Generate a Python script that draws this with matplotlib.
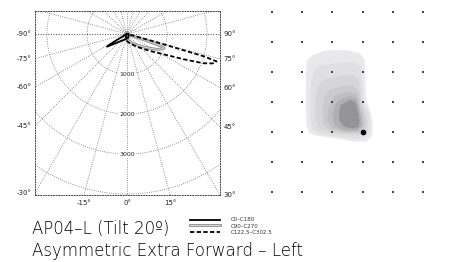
import numpy as np
import matplotlib.pyplot as plt
from matplotlib.patches import Circle, Polygon
from matplotlib.lines import Line2D

plt.rcParams['font.family'] = ['DejaVu Sans']

# photometric curves: angle from nadir (deg), intensity (cd)
c0_ang = [-90, -75, -65, -61, -59.5, -58.5, -57.5, -55, -50, -45, -40, -30, -20, -10,
          0, 10, 20, 30, 45, 60, 75, 90]
c0_cd = [10, 12, 20, 60, 300, 560, 590, 475, 345, 272, 227, 173, 143, 125,
         115, 105, 90, 75, 60, 50, 40, 30]

c90_ang = [-90, -60, -30, -10, 0, 10, 21, 30, 40, 50, 53.5, 60, 62.7, 66, 69.3, 70.5,
           71.5, 73, 80, 90]
c90_cd = [10, 15, 30, 70, 120, 160, 206, 260, 350, 480, 560, 730, 835, 930, 995, 900,
          300, 60, 20, 10]

c122_ang = [-90, -60, -30, -10, 0, 10, 18, 30, 40, 50, 55, 62, 66, 69, 71, 73, 73.8,
            74.5, 76, 80, 90]
c122_cd = [10, 15, 50, 130, 180, 215, 245, 320, 430, 610, 760, 1120, 1550, 2040, 2260,
           2340, 2000, 800, 100, 30, 10]

ring_values = [1000, 2000, 3000, 4000]
ring_labels = ['1000', '2000', '3000']
left_angles = [-90, -75, -60, -45, -30]
right_angles = [90, 75, 60, 45, 30]
bottom_angles = [-15, 0, 15]

# isolux plot: grid of measuring points and filled levels (outer -> inner)
grid_x = [-3, -2, -1, 0, 1, 2]
grid_y = [-2, -1, 0, 1, 2, 3, 4]
lum_x, lum_y = 0, 0
iso_levels = [
    [(-0.93, 2.73), (-0.50, 2.72), (-0.11, 2.62), (0.06, 2.40), (0.08, 1.73), (0.11, 1.07),
     (0.27, 0.62), (0.33, 0.23), (0.30, -0.13), (0.11, -0.32), (-0.33, -0.30), (-0.83, -0.21),
     (-1.49, -0.12), (-1.76, -0.04), (-1.86, 0.23), (-1.87, 1.07), (-1.87, 2.07), (-1.82, 2.40),
     (-1.65, 2.55), (-1.32, 2.68)],
    [(-1.42, 2.20), (-0.83, 2.30), (-0.30, 2.33), (-0.07, 2.20), (-0.02, 1.57), (0.03, 1.00),
     (0.20, 0.60), (0.25, 0.20), (0.17, -0.10), (-0.10, -0.22), (-0.66, -0.17), (-1.32, -0.07),
     (-1.65, 0.07), (-1.72, 0.40), (-1.72, 1.23), (-1.68, 1.80), (-1.58, 2.07)],
    [(-1.29, 1.73), (-0.83, 1.87), (-0.33, 1.90), (-0.13, 1.73), (-0.07, 1.23), (0.0, 0.87),
     (0.13, 0.53), (0.17, 0.17), (0.07, -0.07), (-0.33, -0.10), (-0.99, -0.03), (-1.42, 0.10),
     (-1.55, 0.40), (-1.55, 1.07), (-1.49, 1.50)],
    [(-1.09, 1.40), (-0.66, 1.53), (-0.30, 1.53), (-0.13, 1.33), (-0.07, 0.93), (0.07, 0.50),
     (0.08, 0.20), (-0.03, 0.0), (-0.50, -0.03), (-1.06, 0.07), (-1.29, 0.27), (-1.32, 0.73),
     (-1.25, 1.17)],
    [(-0.92, 1.20), (-0.50, 1.33), (-0.23, 1.27), (-0.13, 0.97), (-0.03, 0.57), (0.02, 0.23),
     (-0.10, 0.03), (-0.56, 0.02), (-0.99, 0.13), (-1.16, 0.40), (-1.12, 0.83)],
    [(-0.76, 1.07), (-0.43, 1.20), (-0.20, 1.10), (-0.12, 0.80), (-0.05, 0.43), (-0.05, 0.17),
     (-0.23, 0.05), (-0.63, 0.07), (-0.92, 0.23), (-0.99, 0.57), (-0.92, 0.87)],
    [(-0.59, 0.97), (-0.40, 1.07), (-0.23, 0.97), (-0.17, 0.73), (-0.11, 0.40), (-0.13, 0.17),
     (-0.36, 0.12), (-0.63, 0.20), (-0.77, 0.40), (-0.77, 0.67), (-0.73, 0.87)],
]
iso_colors = ['#e9e9eb', '#e0e0e2', '#d6d6d8', '#cbcbcd', '#bfbfc2', '#b0b0b3', '#959598']

title_1 = 'AP04–L (Tilt 20º)'
title_2 = 'Asymmetric Extra Forward – Left'
legend_names = ['C0–C180', 'C90–C270', 'C122.5–C302.5']

W, H = 455, 262


def px_box(l, t, r, b):
    return [l / W, 1 - b / H, (r - l) / W, (b - t) / H]


def to_xy(ang, cd):
    a = np.radians(ang)
    cd = np.asarray(cd, dtype=float)
    return cd * np.sin(a), -cd * np.cos(a)


fig = plt.figure(figsize=(W / 100, H / 100), dpi=100)

# ---- polar diagram in a square frame ----
ax = fig.add_axes(px_box(35, 11, 220, 195))
x0, x1, y0, y1 = -2300, 2325, -4025, 575
ax.set_xlim(x0, x1)
ax.set_ylim(y0, y1)
ax.set_xticks([])
ax.set_yticks([])
for sp in ax.spines.values():
    sp.set_linestyle(':')
    sp.set_linewidth(0.7)
    sp.set_color('#444444')

grid_kw = dict(color='#707070', lw=0.6, ls=':')
for r in ring_values:
    ax.add_patch(Circle((0, 0), r, fill=False, ec='#707070', lw=0.6, ls=':'))
for a in range(0, 360, 15):
    if a in (90, 270):
        continue
    gx, gy = to_xy([0, a], [0, 7000])
    ax.plot(gx, gy, **grid_kw)
ax.plot([x0, x1], [0, 0], color='#444444', lw=0.7, ls=':')

for r, lab in zip(ring_values, ring_labels):
    ax.text(0, -r, lab, ha='center', va='center', fontsize=4.5, color='#222222',
            bbox=dict(fc='white', ec='none', pad=0.6), zorder=3)

x, y = to_xy(c90_ang, c90_cd)
ax.plot(x, y, color='#8c8c8c', lw=2.0, zorder=4)
ax.plot(x, y, color='#e4e4e4', lw=0.6, zorder=4)
x, y = to_xy(c0_ang, c0_cd)
ax.plot(x, y, color='black', lw=1.3, zorder=5)
x, y = to_xy(c122_ang, c122_cd)
ax.plot(x, y, color='black', lw=1.3, dashes=(2.4, 1.3), zorder=5)

# angle labels where the spokes meet the frame
lab_kw = dict(fontsize=5, color='#222222', textcoords='offset points', va='center',
              annotation_clip=False)
for a in left_angles:
    t = np.radians(a)
    ax.annotate(f'{a}°', (x0, -x0 * np.cos(t) / np.sin(t)), xytext=(-2.5, 0), ha='right', **lab_kw)
for a in right_angles:
    t = np.radians(a)
    ax.annotate(f'{a}°', (x1, -x1 * np.cos(t) / np.sin(t)), xytext=(2.5, 0), ha='left', **lab_kw)
for a in bottom_angles:
    t = np.radians(a)
    ax.annotate(f'{a}°', (-y0 * np.sin(t) / np.cos(t), y0), xytext=(0, -6), ha='center', **lab_kw)

# ---- isolux diagram ----
ax2 = fig.add_axes(px_box(263, 3, 432, 201))
ax2.set_xlim(-3.3, 2.3)
ax2.set_ylim(-2.3, 4.3)
ax2.axis('off')
for pts, col in zip(iso_levels, iso_colors):
    ax2.add_patch(Polygon(pts, closed=True, fc=col, ec=col, lw=0.3, joinstyle='round'))
gxx, gyy = np.meshgrid(grid_x, grid_y)
ax2.scatter(gxx.ravel(), gyy.ravel(), marker='s', s=1.3, c='#444444', lw=0, zorder=3)
ax2.plot(lum_x, lum_y, 'o', ms=3, color='black', zorder=4)

# ---- title and legend ----
fig.text(32 / W, 1 - 233.5 / H, title_1, fontsize=12, color='black', va='baseline',
         fontweight='light')
fig.text(32 / W, 1 - 256 / H, title_2, fontsize=12, color='black', va='baseline',
         fontweight='light')

ly = [219.5, 224.5, 232]
fig.add_artist(Line2D([190 / W, 220 / W], [1 - ly[0] / H] * 2, color='black', lw=1.3))
fig.add_artist(Line2D([190 / W, 220 / W], [1 - ly[1] / H] * 2, color='#8c8c8c', lw=2.0))
fig.add_artist(Line2D([190 / W, 220 / W], [1 - ly[1] / H] * 2, color='#e4e4e4', lw=0.6))
fig.add_artist(Line2D([190 / W, 220 / W], [1 - ly[2] / H] * 2, color='black', lw=1.3,
                      dashes=(2.4, 1.3)))
for yy, name in zip([219.5, 226, 232.5], legend_names):
    fig.text(231 / W, 1 - yy / H, name, fontsize=4, color='#333333', va='center')

fig.savefig('out.png', dpi=100)
